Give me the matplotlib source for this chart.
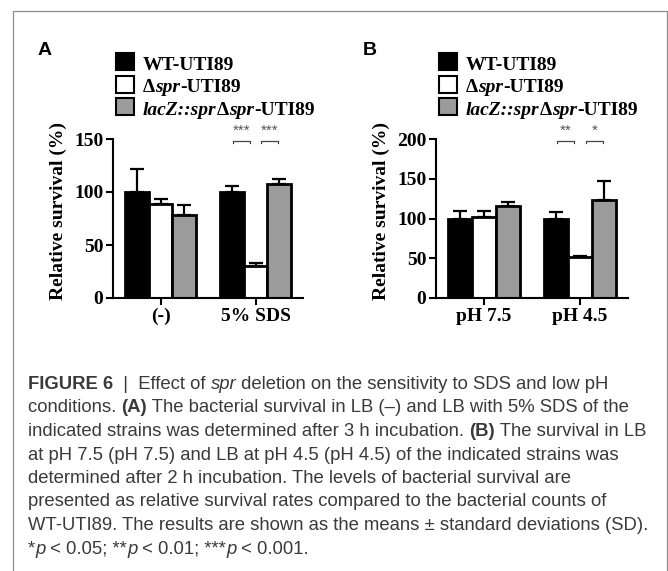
import numpy as np
import matplotlib as mpl
mpl.use('Agg')
from matplotlib import pyplot as plt
from matplotlib.patches import Rectangle
from matplotlib.transforms import IdentityTransform

W, H = 668, 571
SERIF = ['Liberation Serif', 'DejaVu Serif']
SANS = ['Liberation Sans', 'DejaVu Sans']

# data
strains = ['WT-UTI89', 'Δspr-UTI89', 'lacZ::sprΔspr-UTI89']
colors = ['black', 'white', '#9b9b9b']

cond_a = ['(-)', '5% SDS']
mean_a = [[100, 100], [89, 30], [78, 108]]
sd_a = [[22, 6], [4, 3], [10, 4]]

cond_b = ['pH 7.5', 'pH 4.5']
mean_b = [[100, 100], [102, 51], [116, 123]]
sd_b = [[9, 8], [7, 2], [5, 24]]

sig_a = [('***', 0, 1), ('***', 1, 2)]
sig_b = [('**', 0, 1), ('*', 1, 2)]

legend_runs = [
    [('WT-UTI89', 'normal')],
    [('Δ', 'normal'), ('spr', 'italic'), ('-UTI89', 'normal')],
    [('lacZ::spr', 'italic'), ('Δ', 'normal'),
     ('spr', 'italic'), ('-UTI89', 'normal')],
]

caption = [
    [('FIGURE 6', 'bold', 'normal'), ('  |  Effect of ', 'normal', 'normal'), ('spr', 'normal', 'italic'),
     (' deletion on the sensitivity to SDS and low pH', 'normal', 'normal')],
    [('conditions. ', 'normal', 'normal'), ('(A)', 'bold', 'normal'),
     (' The bacterial survival in LB (\u2013) and LB with 5% SDS of the', 'normal', 'normal')],
    [('indicated strains was determined after 3 h incubation. ', 'normal', 'normal'), ('(B)', 'bold', 'normal'),
     (' The survival in LB', 'normal', 'normal')],
    [('at pH 7.5 (pH 7.5) and LB at pH 4.5 (pH 4.5) of the indicated strains was', 'normal', 'normal')],
    [('determined after 2 h incubation. The levels of bacterial survival are', 'normal', 'normal')],
    [('presented as relative survival rates compared to the bacterial counts of', 'normal', 'normal')],
    [('WT-UTI89. The results are shown as the means \u00b1 standard deviations (SD).', 'normal', 'normal')],
    [('*', 'normal', 'normal'), ('p', 'normal', 'italic'), (' < 0.05; **', 'normal', 'normal'),
     ('p', 'normal', 'italic'), (' < 0.01; ***', 'normal', 'normal'), ('p', 'normal', 'italic'),
     (' < 0.001.', 'normal', 'normal')],
]

fig = plt.figure(figsize=(W / 100, H / 100), dpi=100)
renderer = fig.canvas.get_renderer()


def run_width(s, **kw):
    a = fig.text(0, 0, 'x' + s + 'x', transform=IdentityTransform(), **kw)
    b = fig.text(0, 0, 'xx', transform=IdentityTransform(), **kw)
    w = a.get_window_extent(renderer).width - b.get_window_extent(renderer).width
    a.remove()
    b.remove()
    return w


def draw_runs(x, y, runs, **kw):
    # x, y in pixels from top-left, y = baseline
    for s, weight, style in runs:
        fig.text(x, H - y, s, transform=IdentityTransform(), va='baseline',
                 weight=weight, style=style, **kw)
        x += run_width(s, weight=weight, style=style, **kw)


def panel(left, width, ymax, yticks, conds, means, sds, sigs, label, lx):
    ax = fig.add_axes([left / W, 1 - 298 / H, width / W, 159 / H])
    x = np.arange(len(conds))
    bw = 0.25
    for i in range(3):
        ax.bar(x + (i - 1) * bw, means[i], bw, color=colors[i], edgecolor='black',
               linewidth=2, zorder=2)
        ax.errorbar(x + (i - 1) * bw, means[i], yerr=[np.zeros(len(conds)), sds[i]],
                    fmt='none', ecolor='black', elinewidth=1.6, capsize=5, capthick=1.6, zorder=1)
    ax.set_xlim(-0.5, 1.5)
    ax.set_ylim(0, ymax)
    ax.set_yticks(yticks)
    ax.set_xticks(x)
    ax.set_xticklabels(conds)
    for sp in ['top', 'right']:
        ax.spines[sp].set_visible(False)
    for sp in ['left', 'bottom']:
        ax.spines[sp].set_linewidth(1.5)
    ax.tick_params(direction='out', length=5, width=1.5, pad=2)
    for t in ax.get_xticklabels() + ax.get_yticklabels():
        t.set_family(SERIF)
        t.set_weight('bold')
        t.set_fontsize(14)
    ax.set_ylabel('Relative survival (%)', family=SERIF, weight='bold', fontsize=14)
    ax.yaxis.set_label_coords(-0.24, 0.55)

    # significance brackets
    yb = ymax * 0.987
    ys = ymax * 1.05
    for txt, g0, g1 in sigs:
        x0 = 1 + (g0 - 1) * bw + 0.01
        x1 = 1 + (g1 - 1) * bw - 0.01
        if g0 == 1:
            x0 += 0.05
        else:
            x1 -= 0.05
        ax.plot([x0, x0, x1, x1], [yb - ymax * 0.015, yb, yb, yb - ymax * 0.015],
                color='#444444', lw=0.9, clip_on=False)
        ax.text((x0 + x1) / 2, ys, txt, ha='center', va='center', fontsize=11,
                color='#555555', family=SANS)

    # panel letter
    fig.text(lx, H - 55, label, transform=IdentityTransform(), family=SANS,
             weight='bold', fontsize=14, va='baseline')

    # legend
    sq = left + 3
    for i in range(3):
        top = 53 + i * 22.5
        fig.patches.append(Rectangle((sq, H - top - 17), 18, 17, transform=IdentityTransform(),
                                     facecolor=colors[i], edgecolor='black', linewidth=1.5))
        draw_runs(sq + 27, top + 17,
                  [(s, 'bold', st) for s, st in legend_runs[i]],
                  family=SERIF, fontsize=14, color='black')
    return ax


panel(113, 190, 150, [0, 50, 100, 150], cond_a, mean_a, sd_a, sig_a, 'A', 38)
panel(436, 192, 200, [0, 50, 100, 150, 200], cond_b, mean_b, sd_b, sig_b, 'B', 363)

# frame around the figure
fig.add_artist(plt.Line2D([13, 13, 667, 667], [0, H - 10.5, H - 10.5, 0],
                          transform=IdentityTransform(), color='#8c8c8c', lw=0.9))

for k, line in enumerate(caption):
    draw_runs(28, 389 + k * 23.5, line, family=SANS, fontsize=13.3, color='#3a3a3a')

fig.savefig('out.png', dpi=100)
